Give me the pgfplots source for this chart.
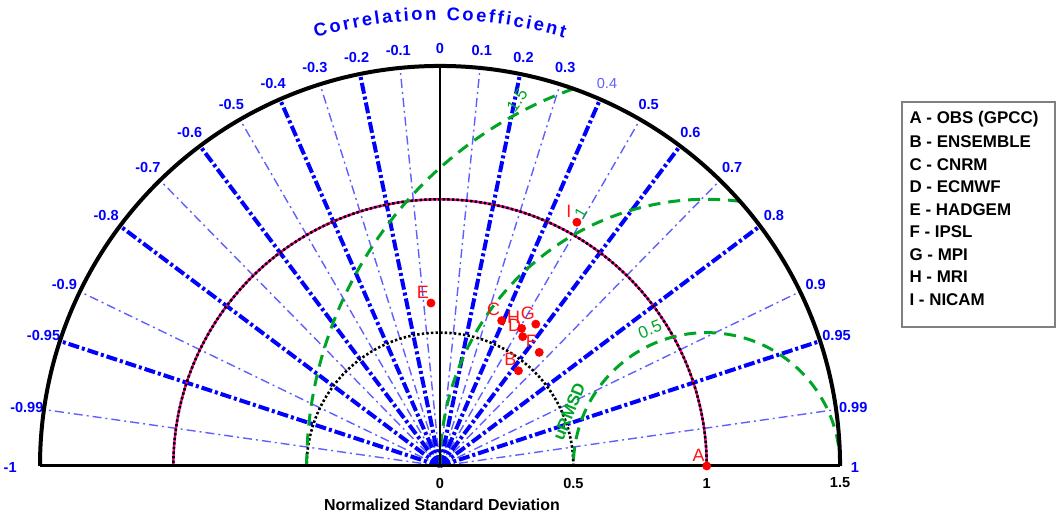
\documentclass[border=0pt]{standalone}
\usepackage{pgfplots}
\pgfplotsset{compat=1.18}
\usepackage{fontspec}
\setmainfont{Liberation Sans}
\usetikzlibrary{decorations.text}
\definecolor{tblue}{RGB}{0,0,255}
\definecolor{lblue}{RGB}{95,95,255}
\definecolor{rgreen}{RGB}{0,165,40}
\definecolor{dred}{RGB}{255,20,20}
\tikzset{
  thickcorr/.style={line width=2bp, tblue, dash pattern=on 5.5bp off 1.5bp on 1.5bp off 1.5bp},
  thincorr/.style={line width=0.7bp, lblue, dash pattern=on 4.5bp off 2bp on 1bp off 2bp},
  corrlab/.style={font=\bfseries\fontsize{7.3}{8}\selectfont, text=tblue, anchor=center, inner sep=0pt},
  rms/.style={line width=1.5bp, rgreen, dash pattern=on 6bp off 4bp},
  legtext/.style={anchor=west, font=\bfseries\fontsize{8.5}{9}\selectfont, inner sep=0pt},
}
\begin{document}
\begin{tikzpicture}
\begin{axis}[
  x=133.35bp, y=133.35bp,
  xmin=-1.5, xmax=1.5, ymin=0, ymax=1.5,
  hide axis, clip=false,
]
% bounding box of the whole picture
\path (axis cs:-1.650,-0.1837) rectangle (axis cs:2.3135,1.7473);

% radial correlation lines
\pgfplotsinvokeforeach{0.1,0.3,0.5,0.7,0.9,0.99,-0.1,-0.3,-0.5,-0.7,-0.9,-0.99}{
  \draw[thincorr] (axis cs:0,0) -- (axis cs:{1.5*(#1)},{1.5*sqrt(1-(#1)^2)});
}
\pgfplotsinvokeforeach{0.2,0.4,0.6,0.8,0.95,-0.2,-0.4,-0.6,-0.8,-0.95}{
  \draw[thickcorr] (axis cs:0,0) -- (axis cs:{1.5*(#1)},{1.5*sqrt(1-(#1)^2)});
}
% correlation labels
\pgfplotsinvokeforeach{0.1,0.2,0.3,0.5,0.6,0.7,0.8,0.9,0.95,0.99,-0.1,-0.2,-0.3,-0.4,-0.5,-0.6,-0.7,-0.8,-0.9,-0.95,-0.99}{
  \node[corrlab] at (axis cs:{1.565*(#1)},{1.565*sqrt(1-(#1)^2)}) {#1};
}
\node[corrlab, font=\fontsize{7.3}{8}\selectfont, text=lblue] at (axis cs:{1.565*0.4},{1.565*sqrt(1-0.16)}) {0.4};
\node[corrlab] at (axis cs:0,1.565) {0};
\node[corrlab] at (axis cs:1.556,-0.004) {1};
\node[corrlab] at (axis cs:-1.612,-0.004) {-1};

% title along arc
\path[decorate, decoration={text along path,
   text={|\color{tblue}\bfseries\fontsize{9.2}{10}\selectfont|Correlation Coefficient},
   text align={fit to path}}]
   (axis cs:{1.672*cos(106.2)},{1.672*sin(106.2)}) arc[start angle=106.2, end angle=73.8, radius=222.96bp];

% standard deviation circles
\draw[black, line width=1.3bp, dash pattern=on 1.2bp off 1.1bp] (axis cs:0.5,0) arc[start angle=0, end angle=180, radius=66.675bp];
\draw[magenta, line width=1.2bp] (axis cs:1,0) arc[start angle=0, end angle=180, radius=133.35bp];
\draw[black, line width=1.3bp, dash pattern=on 1.2bp off 1.1bp] (axis cs:1,0) arc[start angle=0, end angle=180, radius=133.35bp];

% RMSD arcs centred on (1,0)
\draw[rms] (axis cs:1.5,0) arc[start angle=0, end angle=180, radius=66.675bp];
\draw[rms] (axis cs:1.1250,0.9922) arc[start angle=82.82, end angle=180, radius=133.35bp];
\draw[rms] (axis cs:0.5,1.4142) arc[start angle=109.47, end angle=180, radius=200.025bp];
\node[text=rgreen, font=\fontsize{8.5}{9}\selectfont, rotate=55] at (axis cs:0.289,1.372) {1.5};
\node[text=rgreen, font=\fontsize{8}{9}\selectfont, rotate=60] at (axis cs:0.527,0.950) {1};
\node[text=rgreen, font=\fontsize{8.5}{9}\selectfont, rotate=22] at (axis cs:0.787,0.512) {0.5};
\node[text=rgreen, font=\bfseries\fontsize{8.5}{9}\selectfont, rotate=68] at (axis cs:0.484,0.204) {uRMSD};

% frame
\draw[line width=1bp] (axis cs:0,0) -- (axis cs:0,1.5);
\draw[line width=1.5bp] (axis cs:-1.5,0) -- (axis cs:1.5,0);
\draw[line width=2bp] (axis cs:1.5,0) arc[start angle=0, end angle=180, radius=200.025bp];

% x tick labels and label
\node[font=\bfseries\fontsize{7.3}{8}\selectfont] at (axis cs:0,-0.064) {0};
\node[font=\bfseries\fontsize{7.3}{8}\selectfont] at (axis cs:0.5,-0.064) {0.5};
\node[font=\bfseries\fontsize{7.3}{8}\selectfont] at (axis cs:1,-0.064) {1};
\node[font=\bfseries\fontsize{7.3}{8}\selectfont] at (axis cs:1.5,-0.064) {1.5};
\node[font=\bfseries\fontsize{8}{9}\selectfont] at (axis cs:0.0075,-0.146) {Normalized Standard Deviation};

% legend
\draw[gray, line width=0.8bp] (axis cs:1.732,0.521) rectangle (axis cs:2.306,1.365);
\node[legtext] at (axis cs:1.759,1.301) {A - OBS (GPCC)};
\node[legtext] at (axis cs:1.759,1.2163) {B - ENSEMBLE};
\node[legtext] at (axis cs:1.759,1.1316) {C - CNRM};
\node[legtext] at (axis cs:1.759,1.0469) {D - ECMWF};
\node[legtext] at (axis cs:1.759,0.9622) {E - HADGEM};
\node[legtext] at (axis cs:1.759,0.8775) {F - IPSL};
\node[legtext] at (axis cs:1.759,0.7928) {G - MPI};
\node[legtext] at (axis cs:1.759,0.7081) {H - MRI};
\node[legtext] at (axis cs:1.759,0.6234) {I - NICAM};

% data points
\addplot[only marks, mark=*, mark size=2bp, color=red,
  nodes near coords, point meta=explicit symbolic,
  every node near coord/.append style={anchor=center, xshift=-4bp, yshift=5.5bp, inner sep=0pt,
     font=\fontsize{9}{10}\selectfont, text=dred}]
  table[meta=lab] {
x      y      lab
1.000  0.000  A
0.294  0.357  B
0.231  0.545  C
0.310  0.485  D
-0.034 0.611  E
0.372  0.426  F
0.359  0.532  G
0.306  0.516  H
0.513  0.914  I
};
\end{axis}
\end{tikzpicture}
\end{document}
